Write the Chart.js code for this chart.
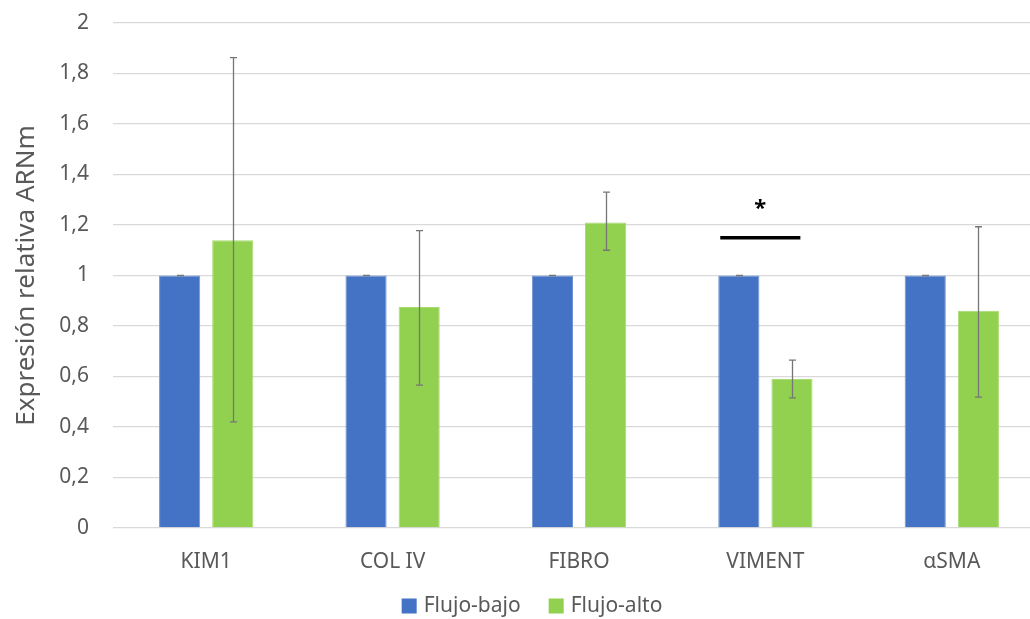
<!DOCTYPE html>
<html>
<head>
<meta charset="utf-8">
<script src="https://cdn.jsdelivr.net/npm/chart.js@4"></script>
<style>
  html, body { margin: 0; padding: 0; overflow: hidden; background: #fff; }
  #wrap { width: 1045px; height: 619px; }
</style>
</head>
<body>
<div id="wrap"><canvas id="barChart"></canvas></div>
<script>
// data
const categorias = ["KIM1", "COL IV", "FIBRO", "VIMENT", "\u03b1SMA"];
const flujoBajo = [1, 1, 1, 1, 1];
const flujoAlto = [1.14, 0.875, 1.21, 0.59, 0.86];
const bajoErrMin = [1, 1, 1, 1, 1];
const bajoErrMax = [1, 1, 1, 1, 1];
const altoErrMin = [0.42, 0.566, 1.10, 0.515, 0.518];
const altoErrMax = [1.863, 1.178, 1.33, 0.665, 1.193];
const yTicks = [0, 0.2, 0.4, 0.6, 0.8, 1, 1.2, 1.4, 1.6, 1.8, 2];
// significance mark on VIMENT
const sigIndex = 3;
const sigLineY = 1.15;
const sigStarY = 1.265;

const textColor = "#595959";
const fontFam = "'Noto Sans', 'Open Sans', sans-serif";

// error bars drawn on each bar
const errorBars = {
  id: "errorBars",
  afterDatasetsDraw(chart) {
    const ctx = chart.ctx;
    const y = chart.scales.y;
    const errs = [[bajoErrMin, bajoErrMax], [altoErrMin, altoErrMax]];
    ctx.save();
    ctx.strokeStyle = "#767676";
    ctx.lineWidth = 1.3;
    errs.forEach((e, di) => {
      chart.getDatasetMeta(di).data.forEach((bar, i) => {
        const x = Math.round(bar.x) + 0.5;
        const y1 = y.getPixelForValue(e[0][i]);
        const y2 = y.getPixelForValue(e[1][i]);
        ctx.beginPath();
        ctx.moveTo(x, y1); ctx.lineTo(x, y2);
        ctx.moveTo(x - 3.5, y1); ctx.lineTo(x + 3.5, y1);
        ctx.moveTo(x - 3.5, y2); ctx.lineTo(x + 3.5, y2);
        ctx.stroke();
      });
    });
    ctx.restore();
  }
};

// asterisk + line over VIMENT
const significance = {
  id: "significance",
  afterDatasetsDraw(chart) {
    const ctx = chart.ctx;
    const b = chart.getDatasetMeta(0).data[sigIndex];
    const g = chart.getDatasetMeta(1).data[sigIndex];
    const yl = chart.scales.y.getPixelForValue(sigLineY);
    const ys = chart.scales.y.getPixelForValue(sigStarY);
    const x1 = b.x - b.width / 2 + 2;
    const x2 = g.x - g.width / 2 + 29;
    ctx.save();
    ctx.strokeStyle = "#000";
    ctx.lineWidth = 3.5;
    ctx.beginPath();
    ctx.moveTo(x1, yl); ctx.lineTo(x2, yl);
    ctx.stroke();
    ctx.fillStyle = "#000";
    ctx.font = "bold 22px " + fontFam;
    ctx.textAlign = "center";
    ctx.textBaseline = "middle";
    ctx.fillText("*", (x1 + x2) / 2, ys);
    ctx.restore();
  }
};

// legend drawn below the axis (Excel style spacing)
const bottomLegend = {
  id: "bottomLegend",
  afterDraw(chart) {
    const ctx = chart.ctx;
    const sets = chart.data.datasets;
    const yc = 606, box = 15, gapBox = 7, gapItem = 28;
    ctx.save();
    ctx.font = "21px " + fontFam;
    ctx.textBaseline = "middle";
    const widths = sets.map(d => box + gapBox + ctx.measureText(d.label).width);
    const total = widths.reduce((a, b) => a + b, 0) + gapItem * (sets.length - 1);
    let x = 532 - total / 2;
    sets.forEach((d, i) => {
      ctx.fillStyle = d.backgroundColor;
      ctx.fillRect(x, yc - box / 2, box, box);
      ctx.fillStyle = textColor;
      ctx.fillText(d.label, x + box + gapBox, yc);
      x += widths[i] + gapItem;
    });
    ctx.restore();
  }
};

new Chart(document.getElementById("barChart"), {
  type: "bar",
  data: {
    labels: categorias,
    datasets: [{
      label: "Flujo-bajo",
      data: flujoBajo,
      backgroundColor: "#4472c4",
      borderColor: "#6f93d3",
      borderWidth: 1,
      categoryPercentage: 0.57,
      barPercentage: 0.775
    }, {
      label: "Flujo-alto",
      data: flujoAlto,
      backgroundColor: "#92d050",
      borderColor: "#a7dc72",
      borderWidth: 1,
      categoryPercentage: 0.57,
      barPercentage: 0.775
    }]
  },
  options: {
    responsive: true,
    maintainAspectRatio: false,
    animation: false,
    layout: { padding: { top: 23, left: 0, right: 0, bottom: 41 } },
    plugins: {
      legend: { display: false },
      tooltip: { enabled: false }
    },
    scales: {
      x: {
        grid: { display: false },
        border: { display: false },
        ticks: {
          color: textColor,
          font: { family: fontFam, size: 21 },
          padding: 13
        },
        afterFit(s) { s.height = 50; s.paddingTop = 0; }
      },
      y: {
        min: 0,
        max: 2,
        afterBuildTicks(s) { s.ticks = yTicks.map(v => ({ value: v })); },
        grid: { color: "#d9d9d9", lineWidth: 1.3, drawTicks: false },
        border: { display: false },
        ticks: {
          color: textColor,
          font: { family: fontFam, size: 21 },
          padding: 24,
          callback: v => String(v).replace(".", ",")
        },
        title: {
          display: true,
          text: "Expresi\u00f3n relativa ARNm",
          color: textColor,
          font: { family: fontFam, size: 26 },
          padding: { top: 11, bottom: 0 }
        },
        afterFit(s) { s.width = 113; s.paddingTop = 0; s.paddingBottom = 0; }
      }
    }
  },
  plugins: [errorBars, significance, bottomLegend]
});
</script>
</body>
</html>
